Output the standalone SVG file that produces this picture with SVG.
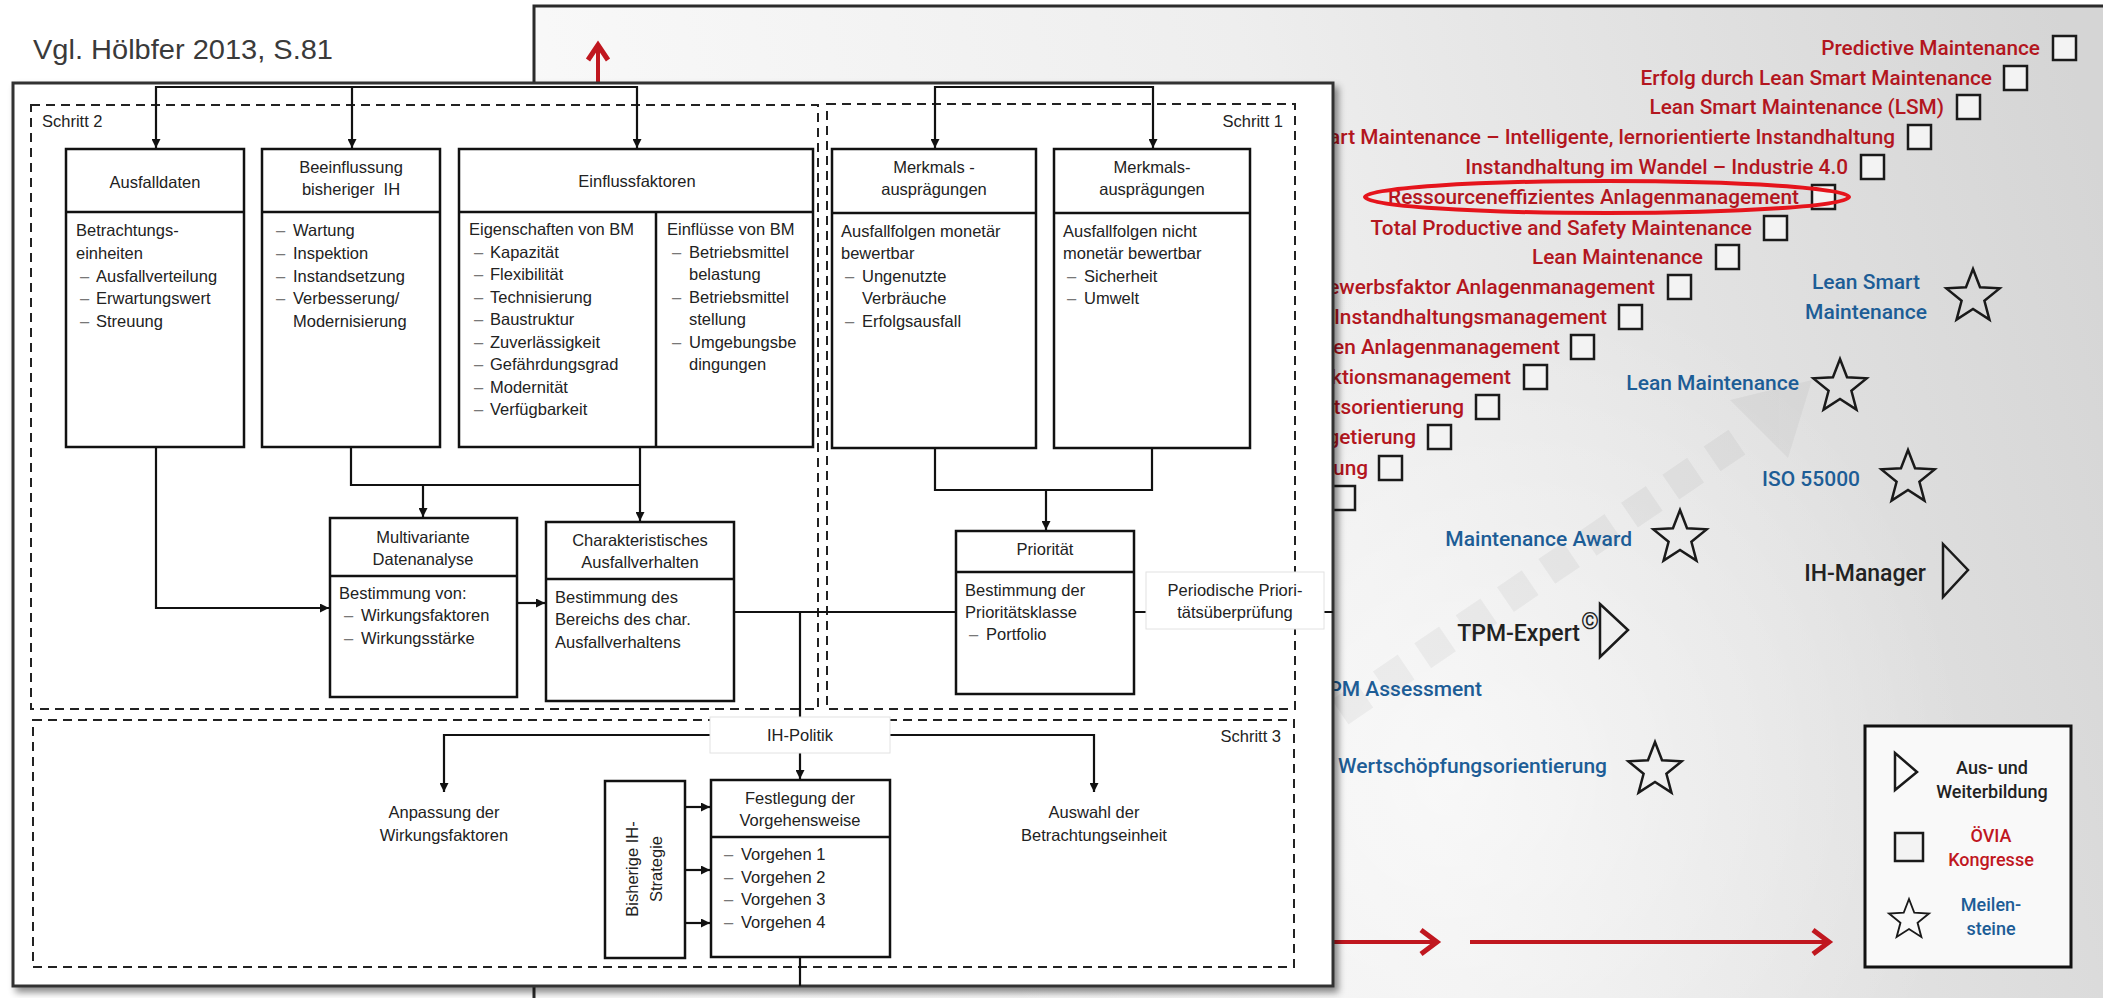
<svg xmlns="http://www.w3.org/2000/svg" width="2103" height="998" viewBox="0 0 2103 998">
  <defs>
    <linearGradient id="panelBg" x1="534" y1="560" x2="2103" y2="180" gradientUnits="userSpaceOnUse">
      <stop offset="0" stop-color="#fafafa"/>
      <stop offset="0.5" stop-color="#eeeeee"/>
      <stop offset="1" stop-color="#d5d5d5"/>
    </linearGradient>
    <radialGradient id="panelGlow" cx="1450" cy="780" r="520" gradientUnits="userSpaceOnUse">
      <stop offset="0" stop-color="#ffffff" stop-opacity="0.6"/>
      <stop offset="1" stop-color="#ffffff" stop-opacity="0"/>
    </radialGradient>
    <filter id="shadow" x="-5%" y="-5%" width="110%" height="110%">
      <feDropShadow dx="4" dy="5" stdDeviation="3.5" flood-color="#000" flood-opacity="0.45"/>
    </filter>
    <marker id="arr" viewBox="0 0 10 10" refX="10" refY="5" markerWidth="9" markerHeight="9" markerUnits="userSpaceOnUse" orient="auto">
      <path d="M0,0 L10,5 L0,10 Z" fill="#111"/>
    </marker>
    <path id="star" d="M0,-28 L7.05,-9.71 L26.63,-8.65 L11.41,3.71 L16.46,22.65 L0,12 L-16.46,22.65 L-11.41,3.71 L-26.63,-8.65 L-7.05,-9.71 Z"/>
    <style>
      .cg { font-family: Roboto, "Liberation Sans", sans-serif; font-size: 20.8px; font-weight: 500; fill: #b3161e; text-anchor: end; }
      .ms { font-family: Roboto, "Liberation Sans", sans-serif; font-size: 21px; font-weight: 500; fill: #1d5d96; }
      .tr { font-family: Roboto, "Liberation Sans", sans-serif; font-size: 23px; font-weight: 500; fill: #222; }
      .lg { font-family: Roboto, "Liberation Sans", sans-serif; font-size: 18px; font-weight: 500; text-anchor: middle; }
      .sq { fill: #f3f3f3; stroke: #1a1a1a; stroke-width: 2.5; }
      .shape { fill: none; stroke: #1a1a1a; stroke-width: 2.5; stroke-linejoin: miter; }
      .red { stroke: #c0171f; fill: none; }
      .box { fill: #fff; stroke: #111; stroke-width: 2.5; }
      .div { stroke: #111; stroke-width: 2.5; }
      .dash { fill: none; stroke: #222; stroke-width: 2; stroke-dasharray: 9 6; }
      .lbl { fill: #fff; stroke: #e2e2e2; stroke-width: 1; }
      .con { fill: none; stroke: #111; stroke-width: 2.2; }
      .t { font-family: "Liberation Sans", Arial, sans-serif; font-size: 16.5px; fill: #222; }
      .c { text-anchor: middle; }
      .d { fill: #777; }
    </style>
  </defs>

  <!-- page background -->
  <rect x="0" y="0" width="2103" height="998" fill="#fff"/>

  <!-- slide panel on the right -->
  <g id="panel">
    <rect x="534" y="6" width="1575" height="1000" fill="url(#panelBg)" stroke="#2b2b2b" stroke-width="3"/>
    <rect x="536" y="8" width="1567" height="990" fill="url(#panelGlow)"/>
    <!-- faint diagonal arrow watermark -->
    <g opacity="0.04">
      <line x1="1340" y1="712" x2="1740" y2="440" stroke="#000" stroke-width="30" stroke-dasharray="30 20"/>
      <polygon points="1730,400 1812,380 1788,458" fill="#000"/>
    </g>
  </g>

  <!-- congress entries -->
  <g id="congresses">
    <text class="cg" x="2040" y="55">Predictive Maintenance</text>
    <rect class="sq" x="2053" y="36" width="23" height="24"/>
    <text class="cg" x="1992" y="85">Erfolg durch Lean Smart Maintenance</text>
    <rect class="sq" x="2004" y="66" width="23" height="24"/>
    <text class="cg" x="1944" y="114">Lean Smart Maintenance (LSM)</text>
    <rect class="sq" x="1957" y="95" width="23" height="24"/>
    <text class="cg" x="1895" y="144">art Maintenance – Intelligente, lernorientierte Instandhaltung</text>
    <rect class="sq" x="1908" y="125" width="23" height="24"/>
    <text class="cg" x="1848" y="174">Instandhaltung im Wandel – Industrie 4.0</text>
    <rect class="sq" x="1861" y="155" width="23" height="24"/>
    <text class="cg" x="1799" y="204">Ressourceneffizientes Anlagenmanagement</text>
    <rect class="sq" x="1812" y="185" width="23" height="24"/>
    <text class="cg" x="1752" y="235">Total Productive and Safety Maintenance</text>
    <rect class="sq" x="1764" y="216" width="23" height="24"/>
    <text class="cg" x="1703" y="264">Lean Maintenance</text>
    <rect class="sq" x="1716" y="245" width="23" height="24"/>
    <text class="cg" x="1655" y="294">ewerbsfaktor Anlagenmanagement</text>
    <rect class="sq" x="1668" y="275" width="23" height="24"/>
    <text class="cg" x="1607" y="324">Instandhaltungsmanagement</text>
    <rect class="sq" x="1619" y="305" width="23" height="24"/>
    <text class="cg" x="1560" y="354">en Anlagenmanagement</text>
    <rect class="sq" x="1571" y="335" width="23" height="24"/>
    <text class="cg" x="1511" y="384">ktionsmanagement</text>
    <rect class="sq" x="1524" y="365" width="23" height="24"/>
    <text class="cg" x="1464" y="414">tsorientierung</text>
    <rect class="sq" x="1476" y="395" width="23" height="24"/>
    <text class="cg" x="1416" y="444">getierung</text>
    <rect class="sq" x="1428" y="425" width="23" height="24"/>
    <text class="cg" x="1368" y="475">ung</text>
    <rect class="sq" x="1379" y="456" width="23" height="24"/>
    <rect class="sq" x="1332" y="486" width="23" height="24"/>
    <!-- highlight ring -->
    <ellipse cx="1607" cy="197" rx="242" ry="16" fill="none" stroke="#e5141c" stroke-width="4"/>
  </g>

  <!-- milestones -->
  <g id="milestones">
    <text class="ms" x="1866" y="289" text-anchor="middle">Lean Smart</text>
    <text class="ms" x="1866" y="319" text-anchor="middle">Maintenance</text>
    <use href="#star" class="shape" transform="translate(1973,297)"/>
    <text class="ms" x="1799" y="390" text-anchor="end">Lean Maintenance</text>
    <use href="#star" class="shape" transform="translate(1840,387)"/>
    <text class="ms" x="1860" y="486" text-anchor="end">ISO 55000</text>
    <use href="#star" class="shape" transform="translate(1908,478)"/>
    <text class="ms" x="1632" y="546" text-anchor="end">Maintenance Award</text>
    <use href="#star" class="shape" transform="translate(1680,538)"/>
    <text class="ms" x="1482" y="696" text-anchor="end">PM Assessment</text>
    <text class="ms" x="1607" y="773" text-anchor="end">Wertschöpfungsorientierung</text>
    <use href="#star" class="shape" transform="translate(1655,770)"/>
  </g>

  <!-- training entries -->
  <g id="training">
    <text class="tr" x="1926" y="581" text-anchor="end">IH-Manager</text>
    <polygon class="shape" points="1943,544 1968,570 1943,597"/>
    <text class="tr" x="1580" y="641" text-anchor="end">TPM-Expert</text>
    <text class="tr" x="1581" y="629" font-size="10">©</text>
    <polygon class="shape" points="1600,604 1628,630 1600,657"/>
  </g>

  <!-- timeline arrows -->
  <g id="timeline" class="red" stroke-width="4">
    <line x1="1330" y1="942" x2="1434" y2="942"/>
    <polyline points="1421,930 1437,942 1421,954" stroke-width="5"/>
    <line x1="1470" y1="942" x2="1826" y2="942"/>
    <polyline points="1813,930 1829,942 1813,954" stroke-width="5"/>
    <line x1="598" y1="83" x2="598" y2="47"/>
    <polyline points="588,60 598,45 608,60" stroke-width="5"/>
  </g>

  <!-- legend -->
  <g id="legend">
    <rect x="1865" y="726" width="206" height="241" fill="#f9f9f9" stroke="#111" stroke-width="3"/>
    <polygon class="shape" points="1895,753 1917,772 1895,790"/>
    <text class="lg" x="1992" y="774" fill="#222">Aus- und</text>
    <text class="lg" x="1992" y="798" fill="#222">Weiterbildung</text>
    <rect class="sq" x="1895" y="833" width="28" height="28"/>
    <text class="lg" x="1991" y="842" fill="#c0171f" font-weight="700">ÖVIA</text>
    <text class="lg" x="1991" y="866" fill="#c0171f" font-weight="700">Kongresse</text>
    <use href="#star" class="shape" transform="translate(1909,920) scale(0.75)"/>
    <text class="lg" x="1991" y="911" fill="#1d5d96">Meilen-</text>
    <text class="lg" x="1991" y="935" fill="#1d5d96">steine</text>
  </g>

  <!-- source note -->
  <text x="33" y="59" font-family="'Liberation Sans', Arial, sans-serif" font-size="27" fill="#3a3a3a" textLength="300" lengthAdjust="spacingAndGlyphs">Vgl. Hölbfer 2013, S.81</text>

  <!-- process model -->
  <g id="model">
    <rect x="13" y="83" width="1320" height="903" fill="#fff" stroke="#333" stroke-width="3" filter="url(#shadow)"/>

    <!-- step frames -->
    <g id="frames">
      <rect class="dash" x="31" y="105" width="787" height="604"/>
      <rect class="dash" x="827" y="104" width="468" height="605"/>
      <rect class="dash" x="33" y="720" width="1261" height="247"/>
      <text class="t" x="42" y="127">Schritt 2</text>
      <text class="t" x="1283" y="127" text-anchor="end">Schritt 1</text>
      <text class="t" x="1281" y="742" text-anchor="end">Schritt 3</text>
    </g>

    <!-- connectors -->
    <g id="connectors">
      <path class="con" d="M156,87 H637 M935,87 H1153"/>
      <path class="con" d="M156,86 V148" marker-end="url(#arr)"/>
      <path class="con" d="M352,86 V148" marker-end="url(#arr)"/>
      <path class="con" d="M637,86 V148" marker-end="url(#arr)"/>
      <path class="con" d="M935,86 V148" marker-end="url(#arr)"/>
      <path class="con" d="M1153,86 V148" marker-end="url(#arr)"/>
      <path class="con" d="M156,447 V608 H329" marker-end="url(#arr)"/>
      <path class="con" d="M351,447 V485 H640"/>
      <path class="con" d="M640,447 V521" marker-end="url(#arr)"/>
      <path class="con" d="M423,485 V517" marker-end="url(#arr)"/>
      <path class="con" d="M517,603 H545" marker-end="url(#arr)"/>
      <path class="con" d="M734,612 H956"/>
      <path class="con" d="M800,612 V717"/>
      <path class="con" d="M1134,612 H1146 M1324,612 H1333"/>
      <path class="con" d="M935,448 V490 H1152 V448"/>
      <path class="con" d="M1046,490 V530" marker-end="url(#arr)"/>
      <path class="con" d="M710,735 H444 V792" marker-end="url(#arr)"/>
      <path class="con" d="M890,735 H1094 V792" marker-end="url(#arr)"/>
      <path class="con" d="M800,753 V779" marker-end="url(#arr)"/>
      <path class="con" d="M685,807 H710" marker-end="url(#arr)"/>
      <path class="con" d="M685,870 H710" marker-end="url(#arr)"/>
      <path class="con" d="M685,923 H710" marker-end="url(#arr)"/>
      <path class="con" d="M800,957 V986"/>
    </g>

    <g id="ausfalldaten">
      <rect class="box" x="66" y="149" width="178" height="298"/>
      <line class="div" x1="66" y1="212" x2="244" y2="212"/>
      <text class="t c" x="155" y="188">Ausfalldaten</text>
      <text class="t" x="76" y="236">Betrachtungs-</text>
      <text class="t" x="76" y="259">einheiten</text>
      <text class="t d" x="80" y="282">–</text><text class="t" x="96" y="282">Ausfallverteilung</text>
      <text class="t d" x="80" y="304">–</text><text class="t" x="96" y="304">Erwartungswert</text>
      <text class="t d" x="80" y="327">–</text><text class="t" x="96" y="327">Streuung</text>
    </g>

    <g id="beeinflussung">
      <rect class="box" x="262" y="149" width="178" height="298"/>
      <line class="div" x1="262" y1="212" x2="440" y2="212"/>
      <text class="t c" x="351" y="173">Beeinflussung</text>
      <text class="t c" x="351" y="195" xml:space="preserve">bisheriger  IH</text>
      <text class="t d" x="276" y="236">–</text><text class="t" x="293" y="236">Wartung</text>
      <text class="t d" x="276" y="259">–</text><text class="t" x="293" y="259">Inspektion</text>
      <text class="t d" x="276" y="282">–</text><text class="t" x="293" y="282">Instandsetzung</text>
      <text class="t d" x="276" y="304">–</text><text class="t" x="293" y="304">Verbesserung/</text>
      <text class="t" x="293" y="327">Modernisierung</text>
    </g>

    <g id="einflussfaktoren">
      <rect class="box" x="459" y="149" width="354" height="298"/>
      <line class="div" x1="459" y1="212" x2="813" y2="212"/>
      <line class="div" x1="656" y1="212" x2="656" y2="447"/>
      <text class="t c" x="637" y="187">Einflussfaktoren</text>
      <text class="t" x="469" y="235">Eigenschaften von BM</text>
      <text class="t d" x="474" y="258">–</text><text class="t" x="490" y="258">Kapazität</text>
      <text class="t d" x="474" y="280">–</text><text class="t" x="490" y="280">Flexibilität</text>
      <text class="t d" x="474" y="303">–</text><text class="t" x="490" y="303">Technisierung</text>
      <text class="t d" x="474" y="325">–</text><text class="t" x="490" y="325">Baustruktur</text>
      <text class="t d" x="474" y="348">–</text><text class="t" x="490" y="348">Zuverlässigkeit</text>
      <text class="t d" x="474" y="370">–</text><text class="t" x="490" y="370">Gefährdungsgrad</text>
      <text class="t d" x="474" y="393">–</text><text class="t" x="490" y="393">Modernität</text>
      <text class="t d" x="474" y="415">–</text><text class="t" x="490" y="415">Verfügbarkeit</text>
      <text class="t" x="667" y="235">Einflüsse von BM</text>
      <text class="t d" x="672" y="258">–</text><text class="t" x="689" y="258">Betriebsmittel</text>
      <text class="t" x="689" y="280">belastung</text>
      <text class="t d" x="672" y="303">–</text><text class="t" x="689" y="303">Betriebsmittel</text>
      <text class="t" x="689" y="325">stellung</text>
      <text class="t d" x="672" y="348">–</text><text class="t" x="689" y="348">Umgebungsbe</text>
      <text class="t" x="689" y="370">dingungen</text>
    </g>

    <g id="merkmale-monetaer">
      <rect class="box" x="832" y="149" width="204" height="299"/>
      <line class="div" x1="832" y1="213" x2="1036" y2="213"/>
      <text class="t c" x="934" y="173">Merkmals -</text>
      <text class="t c" x="934" y="195">ausprägungen</text>
      <text class="t" x="841" y="237">Ausfallfolgen monetär</text>
      <text class="t" x="841" y="259">bewertbar</text>
      <text class="t d" x="845" y="282">–</text><text class="t" x="862" y="282">Ungenutzte</text>
      <text class="t" x="862" y="304">Verbräuche</text>
      <text class="t d" x="845" y="327">–</text><text class="t" x="862" y="327">Erfolgsausfall</text>
    </g>

    <g id="merkmale-nicht-monetaer">
      <rect class="box" x="1054" y="149" width="196" height="299"/>
      <line class="div" x1="1054" y1="213" x2="1250" y2="213"/>
      <text class="t c" x="1152" y="173">Merkmals-</text>
      <text class="t c" x="1152" y="195">ausprägungen</text>
      <text class="t" x="1063" y="237">Ausfallfolgen nicht</text>
      <text class="t" x="1063" y="259">monetär bewertbar</text>
      <text class="t d" x="1067" y="282">–</text><text class="t" x="1084" y="282">Sicherheit</text>
      <text class="t d" x="1067" y="304">–</text><text class="t" x="1084" y="304">Umwelt</text>
    </g>

    <g id="datenanalyse">
      <rect class="box" x="330" y="518" width="187" height="179"/>
      <line class="div" x1="330" y1="576" x2="517" y2="576"/>
      <text class="t c" x="423" y="543">Multivariante</text>
      <text class="t c" x="423" y="565">Datenanalyse</text>
      <text class="t" x="339" y="599">Bestimmung von:</text>
      <text class="t d" x="344" y="621">–</text><text class="t" x="361" y="621">Wirkungsfaktoren</text>
      <text class="t d" x="344" y="644">–</text><text class="t" x="361" y="644">Wirkungsstärke</text>
    </g>

    <g id="ausfallverhalten">
      <rect class="box" x="546" y="522" width="188" height="179"/>
      <line class="div" x1="546" y1="579" x2="734" y2="579"/>
      <text class="t c" x="640" y="546">Charakteristisches</text>
      <text class="t c" x="640" y="568">Ausfallverhalten</text>
      <text class="t" x="555" y="603">Bestimmung des</text>
      <text class="t" x="555" y="625">Bereichs des char.</text>
      <text class="t" x="555" y="648">Ausfallverhaltens</text>
    </g>

    <g id="prioritaet">
      <rect class="box" x="956" y="531" width="178" height="163"/>
      <line class="div" x1="956" y1="572" x2="1134" y2="572"/>
      <text class="t c" x="1045" y="555">Priorität</text>
      <text class="t" x="965" y="596">Bestimmung der</text>
      <text class="t" x="965" y="618">Prioritätsklasse</text>
      <text class="t d" x="969" y="640">–</text><text class="t" x="986" y="640">Portfolio</text>
    </g>

    <g id="periodische-pruefung">
      <rect class="lbl" x="1146" y="572" width="178" height="57"/>
      <text class="t c" x="1235" y="596">Periodische Priori-</text>
      <text class="t c" x="1235" y="618">tätsüberprüfung</text>
    </g>

    <g id="ih-politik">
      <rect class="lbl" x="710" y="717" width="180" height="36"/>
      <text class="t c" x="800" y="741">IH-Politik</text>
    </g>

    <g id="anpassung">
      <text class="t c" x="444" y="818">Anpassung der</text>
      <text class="t c" x="444" y="841">Wirkungsfaktoren</text>
    </g>

    <g id="auswahl">
      <text class="t c" x="1094" y="818">Auswahl der</text>
      <text class="t c" x="1094" y="841">Betrachtungseinheit</text>
    </g>

    <g id="bisherige-strategie">
      <rect class="box" x="605" y="781" width="80" height="177"/>
      <g transform="translate(645,869) rotate(-90)">
        <text class="t c" x="0" y="-7">Bisherige IH-</text>
        <text class="t c" x="0" y="17">Strategie</text>
      </g>
    </g>

    <g id="vorgehensweise">
      <rect class="box" x="711" y="780" width="179" height="177"/>
      <line class="div" x1="711" y1="837" x2="890" y2="837"/>
      <text class="t c" x="800" y="804">Festlegung der</text>
      <text class="t c" x="800" y="826">Vorgehensweise</text>
      <text class="t d" x="724" y="860">–</text><text class="t" x="741" y="860">Vorgehen 1</text>
      <text class="t d" x="724" y="883">–</text><text class="t" x="741" y="883">Vorgehen 2</text>
      <text class="t d" x="724" y="905">–</text><text class="t" x="741" y="905">Vorgehen 3</text>
      <text class="t d" x="724" y="928">–</text><text class="t" x="741" y="928">Vorgehen 4</text>
    </g>
  </g>
</svg>
